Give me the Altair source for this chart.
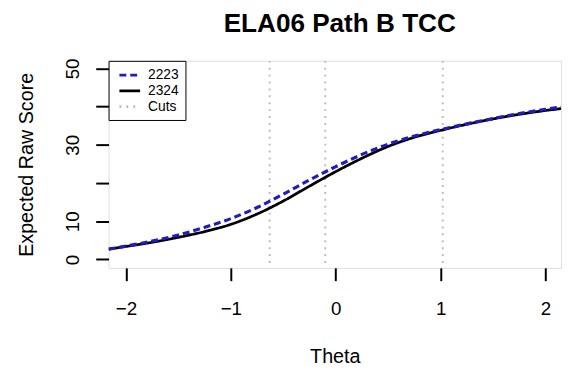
import altair as alt
import pandas as pd

# ---- data ----
theta = [-2.166, -2.0, -1.75, -1.5, -1.25, -1.0, -0.75, -0.5, -0.25, 0.0,
         0.25, 0.5, 0.75, 1.0, 1.25, 1.5, 1.75, 2.0, 2.148]
score_2223 = [2.7, 3.5, 4.8, 6.4, 8.4, 10.7, 13.6, 17.1, 20.8, 24.3,
              27.5, 30.2, 32.3, 34.0, 35.5, 36.9, 38.2, 39.3, 39.9]
score_2324 = [2.7, 3.4, 4.5, 5.8, 7.3, 9.2, 11.9, 15.3, 19.2, 23.0,
              26.5, 29.6, 32.0, 33.8, 35.4, 36.8, 38.0, 39.0, 39.5]
cuts = [-0.63, -0.10, 1.02]
series_names = ["2223", "2324", "Cuts"]
x_ticks = [-2, -1, 0, 1, 2]
y_ticks = [0, 10, 20, 30, 40, 50]

lines_df = pd.DataFrame(
    {"theta": theta * 2,
     "score": score_2223 + score_2324,
     "series": ["2223"] * len(theta) + ["2324"] * len(theta)}
)
cuts_df = pd.DataFrame({"theta": cuts, "series": ["Cuts"] * len(cuts)})

FONT = "Liberation Sans"

color_scale = alt.Scale(domain=series_names, range=["#1c1cc8", "#000000", "#bdbdbd"])
dash_scale = alt.Scale(domain=series_names, range=[[7, 4], [1, 0], [2, 5]])

legend = alt.Legend(
    title=None, orient="none", legendX=0, legendY=0,
    symbolType="M-0.5,0L2.5,0", symbolSize=196, symbolStrokeWidth=2.8,
    labelFont=FONT, labelFontSize=14, labelColor="#000000", labelOffset=17,
    padding=6, rowPadding=0, strokeColor="#000000", fillColor="#ffffff",
)

x_enc = alt.X(
    "theta:Q",
    scale=alt.Scale(domain=[-2.166, 2.148], nice=False, zero=False),
    axis=alt.Axis(
        values=x_ticks, title="Theta", grid=False, domain=False,
        tickSize=13, tickWidth=2, tickColor="#000000",
        labelFont=FONT, labelFontSize=19, labelColor="#000000",
        labelPadding=19, labelBaseline="top", labelFlush=False,
        titleFont=FONT, titleFontSize=20, titleFontWeight="normal",
        titleColor="#000000", titleX=229.5, titleY=96,
        titleBaseline="alphabetic", titleAlign="center",
    ),
)

y_scale = alt.Scale(domain=[-2.2, 52], nice=False, zero=False)
y_axis = alt.Axis(
    values=y_ticks, title="Expected Raw Score", grid=False, domain=False,
    tickSize=13, tickWidth=2, tickColor="#000000",
    labelExpr="datum.value == 20 || datum.value == 40 ? '' : datum.label",
    labelFont=FONT, labelFontSize=19, labelColor="#000000",
    labelAngle=-90, labelAlign="center", labelBaseline="alphabetic",
    labelPadding=17, labelFlush=False,
    titleFont=FONT, titleFontSize=20, titleFontWeight="normal",
    titleColor="#000000", titleAngle=-90, titleX=-77, titleY=105,
    titleBaseline="alphabetic", titleAlign="center",
)

color_enc = alt.Color("series:N", scale=color_scale, legend=legend)
dash_enc = alt.StrokeDash("series:N", scale=dash_scale, legend=legend)

cut_layer = alt.Chart(cuts_df).mark_rule(strokeWidth=2, clip=True).encode(
    x=x_enc, color=color_enc, strokeDash=dash_enc
)

black_layer = alt.Chart(lines_df).transform_filter(
    alt.datum.series == "2324"
).mark_line(strokeWidth=2.8, interpolate="monotone", clip=True).encode(
    x=x_enc, y=alt.Y("score:Q", scale=y_scale, axis=y_axis),
    color=color_enc, strokeDash=dash_enc,
)

blue_layer = alt.Chart(lines_df).transform_filter(
    alt.datum.series == "2223"
).mark_line(strokeWidth=3.2, interpolate="monotone", clip=True).encode(
    x=x_enc, y=alt.Y("score:Q", scale=y_scale, axis=y_axis),
    color=color_enc, strokeDash=dash_enc,
)

chart = alt.layer(cut_layer, black_layer, blue_layer).properties(
    width=459, height=210,
    title=alt.TitleParams(
        text="ELA06 Path B TCC", font=FONT, fontSize=26.5, fontWeight="bold",
        color="#000000", anchor="middle", frame="group", offset=0, dy=0, dx=5,
        baseline="alphabetic",
    ),
    autosize=alt.AutoSizeParams(type="none"),
    padding={"left": 102, "top": 51, "right": 4, "bottom": 100},
).configure_view(
    stroke="#000000", strokeWidth=2
).configure_legend(
    strokeWidth=2
).configure(background="#ffffff")

chart.save("out.html", embed_options={"renderer": "svg", "actions": False})
